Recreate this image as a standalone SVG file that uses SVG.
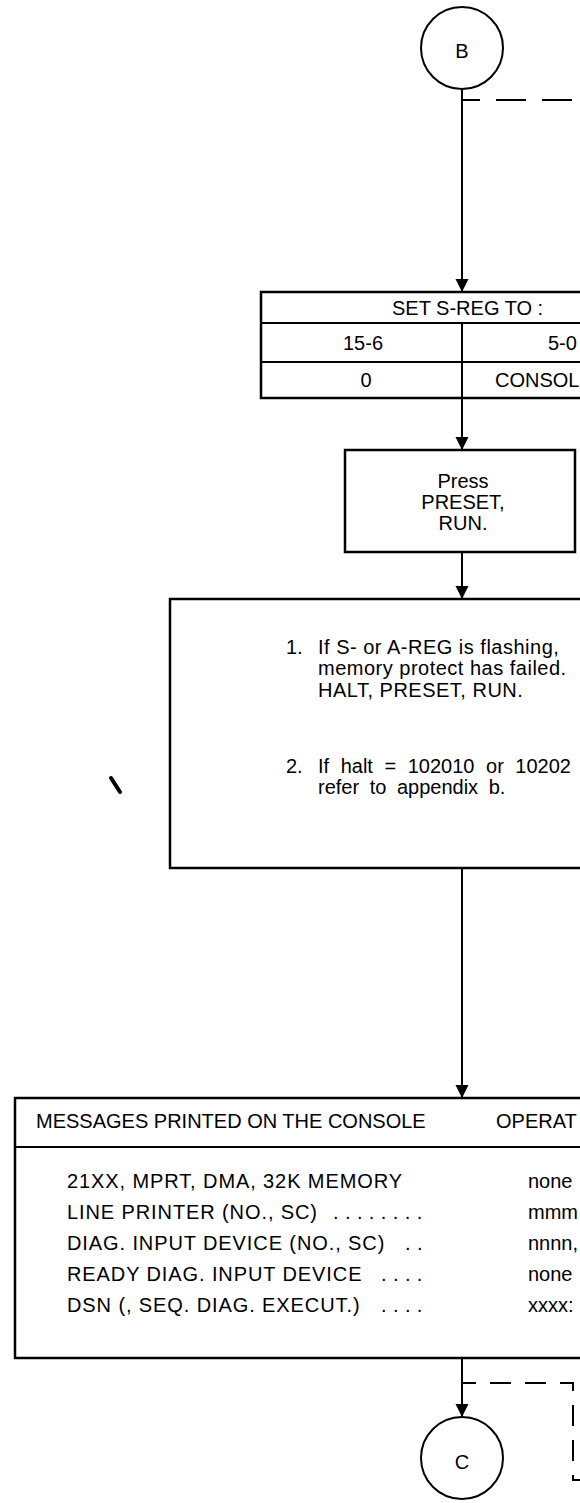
<svg xmlns="http://www.w3.org/2000/svg" width="580" height="1503" viewBox="0 0 580 1503">
<defs>
<style>
.ln{stroke:#000;stroke-width:2;fill:none}
.bx{stroke:#000;stroke-width:2.5;fill:#fff}
.ds{stroke:#000;stroke-width:2;fill:none}
.t{font-family:"Liberation Sans",Arial,Helvetica,sans-serif;fill:#000;font-size:20px}
.c{text-anchor:middle}
.r{letter-spacing:0.9px}
.n{letter-spacing:0.5px}
.dots{letter-spacing:6.4px}
</style>
<marker id="ah" viewBox="0 0 10 10" refX="10" refY="5" markerWidth="13" markerHeight="14" orient="auto" markerUnits="userSpaceOnUse">
<path d="M0,0 L10,5 L0,10 Z" fill="#000"/>
</marker>
</defs>
<rect width="580" height="1503" fill="#fff"/>

<g id="connectors">
<path class="ln" d="M462,90 V292" marker-end="url(#ah)"/>
<path class="ds" d="M462,100 H580" stroke-dasharray="30 16" stroke-dashoffset="12"/>
<path class="ln" d="M462,398 V450" marker-end="url(#ah)"/>
<path class="ln" d="M462,552 V599" marker-end="url(#ah)"/>
<path class="ln" d="M462,868 V1098" marker-end="url(#ah)"/>
<path class="ln" d="M462,1358 V1417" marker-end="url(#ah)"/>
<path class="ds" d="M462,1383 H573 V1480 H580" stroke-dasharray="21 14" stroke-dashoffset="7"/>
</g>

<g id="nodeB">
<circle cx="462" cy="48" r="41" class="ln" stroke-width="2.5"/>
<text x="462" y="58" class="t c">B</text>
</g>

<g id="sregTable">
<rect x="261" y="292" width="340" height="106" class="bx"/>
<path class="ln" d="M261,323 H580 M261,362 H580 M462,323 V398"/>
<text x="392" y="315" class="t">SET S-REG TO :</text>
<text x="363" y="350" class="t c">15-6</text>
<text x="548" y="350" class="t">5-0</text>
<text x="366" y="387" class="t c">0</text>
<text x="495" y="387" class="t">CONSOL</text>
</g>

<g id="pressBox">
<rect x="345" y="450" width="230" height="102" class="bx"/>
<text x="463" y="488" class="t c">Press</text>
<text x="463" y="509" class="t c">PRESET,</text>
<text x="463" y="530" class="t c">RUN.</text>
</g>

<g id="noteBox">
<rect x="170" y="599" width="430" height="269" class="bx"/>
<text x="286" y="654" class="t">1.</text>
<text x="318" y="654" class="t n">If S- or A-REG is flashing,</text>
<text x="318" y="675" class="t n">memory protect has failed.</text>
<text x="318" y="697" class="t n">HALT, PRESET, RUN.</text>
<text x="286" y="773" class="t">2.</text>
<text x="318" y="773" class="t" word-spacing="6">If halt = 102010 or 10202</text>
<text x="318" y="794" class="t" word-spacing="5">refer to appendix b.</text>
</g>

<path d="M111,778 L120,792" stroke="#000" stroke-width="4" stroke-linecap="round"/>

<g id="messagesTable">
<rect x="15" y="1098" width="590" height="260" class="bx"/>
<path class="ln" d="M15,1147 H580"/>
<text x="36" y="1128" class="t">MESSAGES PRINTED ON THE CONSOLE</text>
<text x="496" y="1128" class="t">OPERAT</text>
<text x="67" y="1188" class="t r">21XX, MPRT, DMA, 32K MEMORY</text>
<text x="67" y="1219" class="t r">LINE PRINTER (NO., SC)</text>
<text x="333" y="1219" class="t dots">........</text>
<text x="67" y="1250" class="t r">DIAG. INPUT DEVICE (NO., SC)</text>
<text x="405" y="1250" class="t dots">..</text>
<text x="67" y="1281" class="t r">READY DIAG. INPUT DEVICE</text>
<text x="381" y="1281" class="t dots">....</text>
<text x="67" y="1312" class="t r">DSN (, SEQ. DIAG. EXECUT.)</text>
<text x="381" y="1312" class="t dots">....</text>
<text x="528" y="1188" class="t">none</text>
<text x="528" y="1219" class="t">mmm</text>
<text x="528" y="1250" class="t">nnnn,</text>
<text x="528" y="1281" class="t">none</text>
<text x="528" y="1312" class="t">xxxx:</text>
</g>

<g id="nodeC">
<circle cx="462" cy="1458" r="41" class="ln" stroke-width="2.5"/>
<text x="462" y="1469" class="t c">C</text>
</g>
</svg>
